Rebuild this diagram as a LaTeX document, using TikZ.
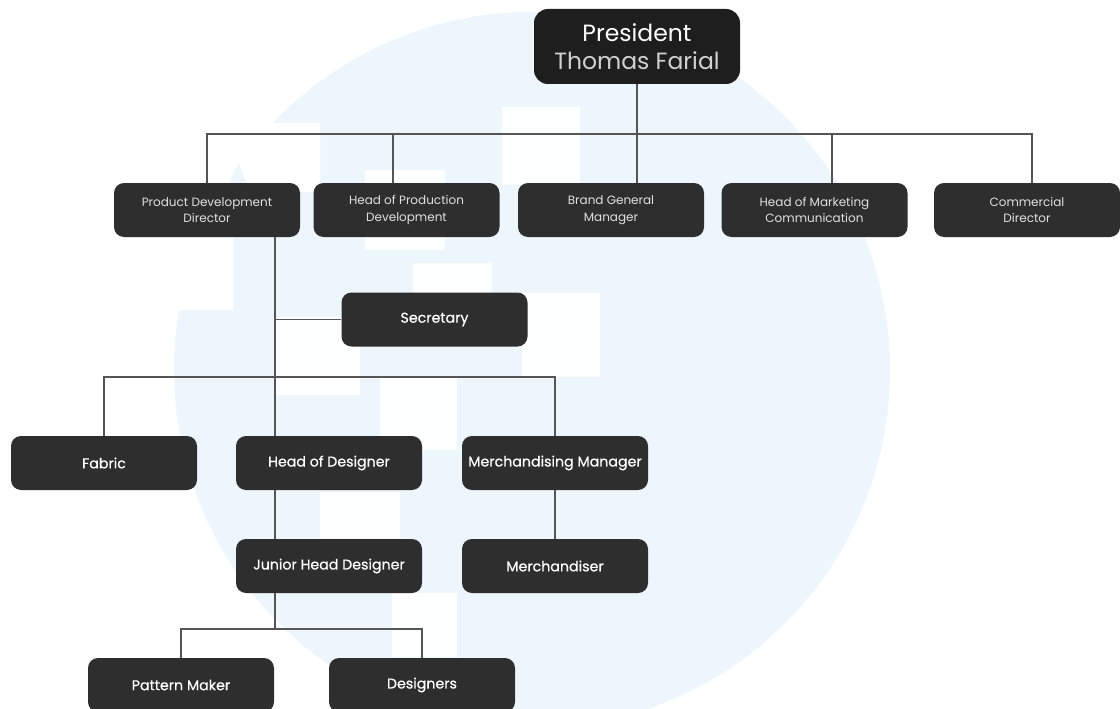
\documentclass[tikz,border=0pt]{standalone}
\usepackage{fontspec}
\setmainfont{Poppins}
\newfontfamily\heavier[FakeBold=0.5]{Poppins}
\definecolor{wash}{HTML}{EDF6FD}
\definecolor{boxfill}{HTML}{2E2E2E}
\definecolor{topfill}{HTML}{1E1E1E}
\definecolor{wirecol}{HTML}{555555}
\tikzset{
  orgbox/.style={fill=boxfill,rounded corners=10pt,minimum width=186pt,minimum height=54pt,inner sep=0pt,align=center,text=white,font=\heavier\fontsize{14.2}{17}\selectfont},
  smallbox/.style={orgbox,text=white!88!black,font=\fontsize{12}{16.5}\selectfont},
  topbox/.style={orgbox,fill=topfill,rounded corners=14pt,minimum width=206pt,minimum height=75pt,font=\fontsize{23.5}{29}\selectfont},
  wire/.style={draw=wirecol,line width=1.5pt},
  gap/.style={fill=white,fill opacity=0.9,draw=none}
}
\begin{document}
\begin{tikzpicture}[x=1pt,y=-1pt]
\clip (0,0) rectangle (1120,709);
% watermark
\fill[wash] (532,370) circle (358);
\fill[white] (150,123) -- (320,123) -- (320,192) -- (250,192) -- (238,160) -- (226,192) -- (233,192) -- (233,310) -- (175,310) -- (150,310) -- cycle;
\fill[gap] (365,170) rectangle (445,250);
\fill[gap] (413,263) rectangle (492,345);
\fill[gap] (502,107) rectangle (580,185);
\fill[gap] (522,293) rectangle (600,377);
\fill[gap] (275,317) rectangle (360,395);
\fill[gap] (380,378) rectangle (457,450);
\fill[gap] (320,492) rectangle (400,538);
\fill[gap] (392,593) rectangle (457,657);
% boxes
\node[topbox] (pres) at (637,46.5) {President\\[-1pt]{\color{white!82!black}Thomas Farial}};
\node[smallbox] (pdd) at (207,210) {Product Development\\Director};
\node[smallbox] (hop) at (406.5,210) {Head of Production\\Development};
\node[smallbox] (brand) at (611,210) {Brand General\\Manager};
\node[smallbox] (hom) at (814.5,210) {Head of Marketing\\Communication};
\node[smallbox] (comm) at (1027,210) {Commercial\\Director};
\node[orgbox] (sec) at (434.5,319.5) {Secretary};
\node[orgbox] (fabric) at (104,463) {Fabric};
\node[orgbox] (hod) at (329,463) {Head of Designer};
\node[orgbox] (merch) at (555,463) {Merchandising Manager};
\node[orgbox] (jhd) at (329,566) {Junior Head Designer};
\node[orgbox] (mdr) at (555,566) {Merchandiser};
\node[orgbox] (pat) at (181,685) {Pattern Maker};
\node[orgbox] (des) at (422,685) {Designers};
% anchors on the wires
\coordinate (busA) at (637,134);
\coordinate (tapB) at (393,134);
\coordinate (tapD) at (832,134);
\coordinate (tapE) at (1032,134);
\coordinate (trunk) at (275,237);
\coordinate (busB) at (275,377);
\coordinate (busC) at (275,629);
% connectors
\draw[wire] (pres.south) -- (pres.south |- brand.north);
\draw[wire] (pdd.north) |- (tapE) -- (tapE |- comm.north);
\draw[wire] (tapB) -- (tapB |- hop.north);
\draw[wire] (tapD) -- (tapD |- hom.north);
\draw[wire] (trunk) -- (trunk |- hod.north);
\draw[wire] (trunk |- sec.west) -- (sec.west);
\draw[wire] (fabric.north) |- (busB) -| (merch.north);
\draw[wire] (trunk |- hod.south) -- (trunk |- jhd.north);
\draw[wire] (trunk |- jhd.south) -- (busC);
\draw[wire] (pat.north) |- (busC) -| (des.north);
\draw[wire] (merch.south) -- (mdr.north);
\end{tikzpicture}
\end{document}
